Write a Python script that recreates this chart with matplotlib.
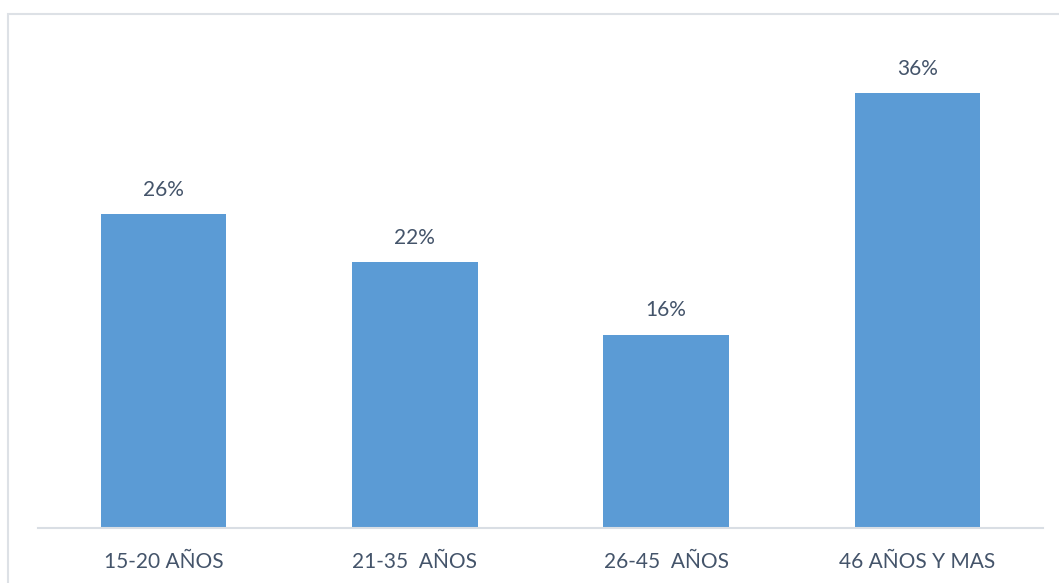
import matplotlib.pyplot as plt
from matplotlib.patches import Rectangle

categories = ['15-20 AÑOS', '21-35  AÑOS', '26-45  AÑOS', '46 AÑOS Y MAS']
values = [26, 22, 16, 36]

text_color = '#44546A'
bar_color = '#5B9BD5'

plt.rcParams['font.family'] = ['Lato', 'DejaVu Sans']

fig = plt.figure(figsize=(10.59, 5.83), dpi=100)
# outer chart frame
fig.patches.append(Rectangle((8/1059, -0.1), 1.2, (583-14)/583 + 0.1,
                             transform=fig.transFigure, fill=False,
                             edgecolor='#DDE1E6', linewidth=1.5))

ax = fig.add_axes([38/1059, 55/583, 1005/1059, 483/583])
x = range(len(categories))
bars = ax.bar(x, values, width=0.5, color=bar_color)
for b, v in zip(bars, values):
    ax.text(b.get_x() + b.get_width()/2, v + 1.2, f'{v}%', ha='center', va='bottom',
            fontsize=15, color=text_color)

ax.set_xlim(-0.5, 3.5)
ax.set_ylim(0, 40)
ax.set_xticks(list(x))
ax.set_xticklabels(categories, fontsize=15, color=text_color)
ax.tick_params(axis='x', length=0, pad=17)
ax.set_yticks([])
for s in ['top', 'right', 'left']:
    ax.spines[s].set_visible(False)
ax.spines['bottom'].set_color('#D9DEE4')
ax.spines['bottom'].set_linewidth(1.5)

fig.savefig('out.png', dpi=100)
